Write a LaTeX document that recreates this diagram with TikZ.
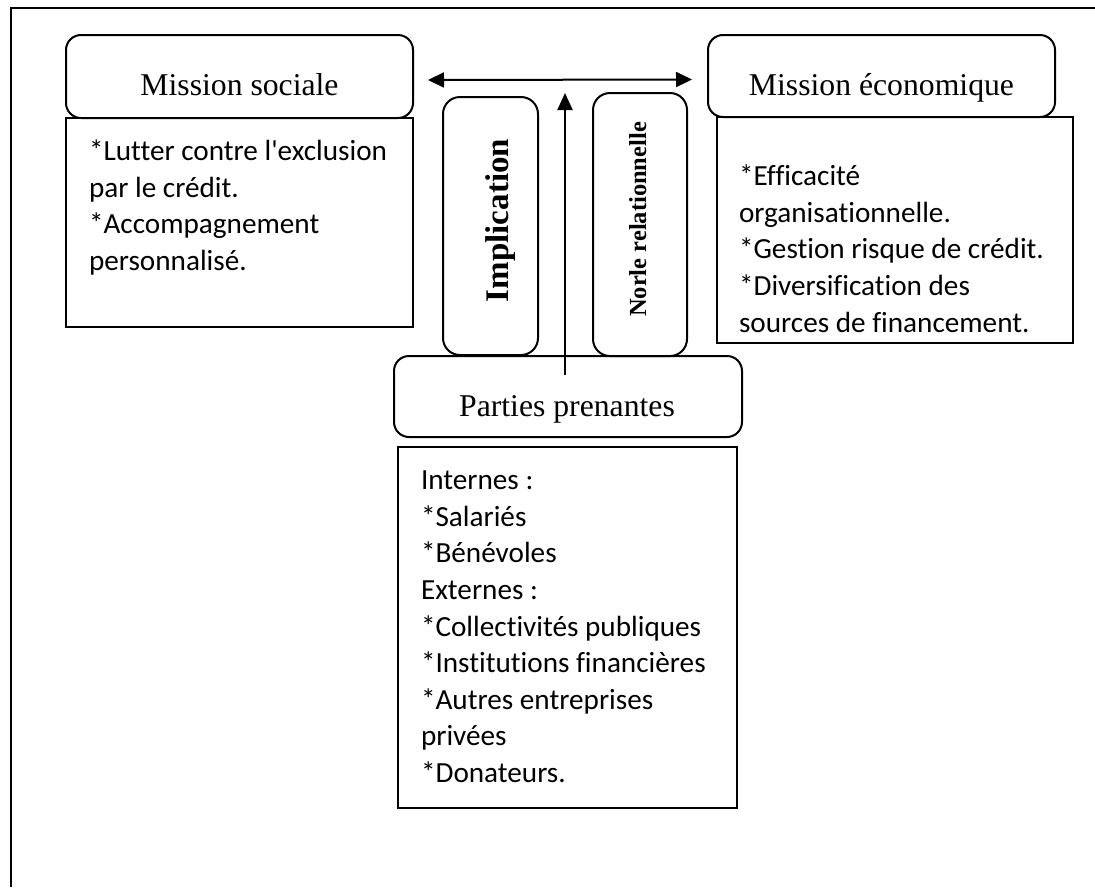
\documentclass[tikz,border=0pt]{standalone}
\usepackage{fontspec}
\setmainfont{Liberation Serif}
\newfontfamily\bodyfont[Ligatures=NoCommon]{Carlito}
\usetikzlibrary{arrows.meta}
\begin{document}
\begin{tikzpicture}[x=1pt,y=-1pt,line width=2pt,
  titlebox/.style={draw,rounded corners=15pt,inner sep=0pt},
  listbox/.style={draw,inner sep=0pt},
  pillbox/.style={draw,rounded corners=17pt,inner sep=0pt},
  titletext/.style={font=\fontsize{31.7}{38}\selectfont,inner sep=0pt,anchor=base},
  listtext/.style={font=\bodyfont\fontsize{29.2}{36.6}\selectfont,inner sep=0pt,anchor=north west,align=left},
  tipshape/.style={Triangle[length=16pt,width=15pt]}]
\useasboundingbox (0,0) rectangle (1095,887);
% open frame (top and left edges)
\draw (11,887) -- (11,8) -- (1095,8);

% social mission
\node[titlebox,minimum width=347pt,minimum height=83pt] (ms) at (239.5,76.5) {};
\node[titletext] (mstxt) at (239.5,95) {Mission sociale};
\node[listbox,minimum width=347pt,minimum height=209pt] (msl) at (239.5,222.5) {};
\node[listtext] (msltxt) at (88,139) {*Lutter contre l'exclusion\\par le crédit.\\*Accompagnement\\personnalisé.};

% economic mission
\node[titlebox,minimum width=347pt,minimum height=82pt] (me) at (881.5,76) {};
\node[titletext] (metxt) at (881.5,95) {Mission économique};
\node[listbox,minimum width=356pt,minimum height=226pt] (mel) at (895,230) {};
\node[listtext] (meltxt) at (738,164) {*Efficacité\\organisationnelle.\\*Gestion risque de crédit.\\*Diversification des\\sources de financement.};

% vertical pills
\node[pillbox,minimum width=95pt,minimum height=258pt] (impl) at (490.5,226) {};
\node[rotate=90,anchor=base,inner sep=0pt,font=\bfseries\fontsize{33}{40}\selectfont] (impltxt) at (508,220.5) {Implication};
\node[pillbox,minimum width=94pt,minimum height=263pt] (norle) at (640,224.5) {};
\node[rotate=90,anchor=base,inner sep=0pt,font=\bfseries\fontsize{24.5}{30}\selectfont] (norletxt) at (646,219.5) {Norle relationnelle};

% stakeholders
\node[titlebox,minimum width=348pt,minimum height=81pt] (pp) at (568,396.5) {};
\node[titletext] (pptxt) at (567,416) {Parties prenantes};
\node[listbox,minimum width=339pt,minimum height=361pt] (ppl) at (567.5,627.5) {};
\node[listtext] (ppltxt) at (420,470) {Internes :\\*Salariés\\*Bénévoles\\Externes :\\*Collectivités publiques\\*Institutions financières\\*Autres entreprises\\privées\\*Donateurs.};

% connectors
\draw[{Triangle[length=16pt,width=15pt]}-{Triangle[length=16pt,width=15pt]}]
  ([shift={(14,3.5)}]ms.east) -- ([shift={(-15,3.5)}]me.west);
\coordinate (up) at (565,93);
\draw[-{Triangle[length=17pt,width=15pt]}] ([shift={(-3,-21.5)}]pp.center) -- (up);
\end{tikzpicture}
\end{document}
